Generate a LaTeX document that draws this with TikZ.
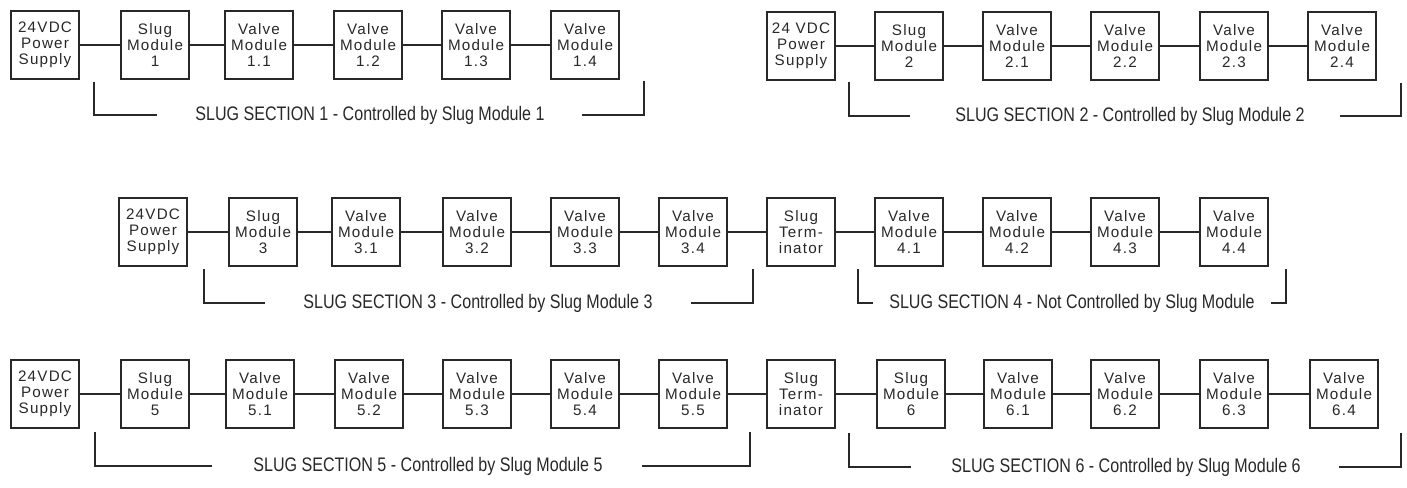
\documentclass[tikz,border=0pt]{standalone}
\usepackage{fontspec}
\usepackage{tikz}
\newfontfamily\modfont[LetterSpace=8]{Liberation Sans}
\newfontfamily\sectfont[FakeStretch=0.82]{Liberation Sans}
\definecolor{inkgray}{RGB}{40,40,40}

\begin{document}
\begin{tikzpicture}[x=0.5pt,y=-0.5pt,
    modbox/.style={draw=inkgray,line width=0.8pt,minimum width=34pt,minimum height=34pt,
        inner sep=0pt,align=center,text=inkgray,font=\modfont\fontsize{7.6}{8}\selectfont},
    wire/.style={draw=inkgray,line width=0.8pt},
    sectlabel/.style={text=inkgray,anchor=base,inner sep=0pt,font=\sectfont\fontsize{9.8}{10}\selectfont}]
    \useasboundingbox (0,0) rectangle (1407,487);

    % Section 1
    \node[modbox] (ps1) at (45,45) {24VDC\\Power\\Supply};
    \node[modbox] (sm1) at (155,45) {Slug\\Module\\1};
    \node[modbox] (vm11) at (259,45) {Valve\\Module\\1.1};
    \node[modbox] (vm12) at (368,45) {Valve\\Module\\1.2};
    \node[modbox] (vm13) at (476,45) {Valve\\Module\\1.3};
    \node[modbox] (vm14) at (585,45) {Valve\\Module\\1.4};
    \draw[wire] (ps1) -- (sm1) -- (vm11) -- (vm12) -- (vm13) -- (vm14);
    \node[sectlabel] (sec1) at (370,120) {SLUG SECTION 1 - Controlled by Slug Module 1};
    \draw[wire] (94,82) -- (94,115) -- (157,115);
    \draw[wire] (582,115) -- (644,115) -- (644,81);

    % Section 2
    \node[modbox] (ps2) at (801,46) {24 VDC\\Power\\Supply};
    \node[modbox] (sm2) at (909,46) {Slug\\Module\\2};
    \node[modbox] (vm21) at (1017,46) {Valve\\Module\\2.1};
    \node[modbox] (vm22) at (1125,46) {Valve\\Module\\2.2};
    \node[modbox] (vm23) at (1234,46) {Valve\\Module\\2.3};
    \node[modbox] (vm24) at (1342,46) {Valve\\Module\\2.4};
    \draw[wire] (ps2) -- (sm2) -- (vm21) -- (vm22) -- (vm23) -- (vm24);
    \node[sectlabel] (sec2) at (1130,121) {SLUG SECTION 2 - Controlled by Slug Module 2};
    \draw[wire] (849,82) -- (849,116) -- (910,116);
    \draw[wire] (1340,116) -- (1401,116) -- (1401,83);

    % Sections 3 and 4
    \node[modbox] (ps3) at (153,232) {24VDC\\Power\\Supply};
    \node[modbox] (sm3) at (263,232) {Slug\\Module\\3};
    \node[modbox] (vm31) at (366,232) {Valve\\Module\\3.1};
    \node[modbox] (vm32) at (477,232) {Valve\\Module\\3.2};
    \node[modbox] (vm33) at (585,232) {Valve\\Module\\3.3};
    \node[modbox] (vm34) at (693,232) {Valve\\Module\\3.4};
    \node[modbox] (st4) at (801,232) {Slug\\Term-\\inator};
    \node[modbox] (vm41) at (909,232) {Valve\\Module\\4.1};
    \node[modbox] (vm42) at (1017,232) {Valve\\Module\\4.2};
    \node[modbox] (vm43) at (1125,232) {Valve\\Module\\4.3};
    \node[modbox] (vm44) at (1234,232) {Valve\\Module\\4.4};
    \draw[wire] (ps3) -- (sm3) -- (vm31) -- (vm32) -- (vm33) -- (vm34) -- (st4)
        -- (vm41) -- (vm42) -- (vm43) -- (vm44);
    \node[sectlabel] (sec3) at (478,308) {SLUG SECTION 3 - Controlled by Slug Module 3};
    \draw[wire] (204,269) -- (204,303) -- (265,303);
    \draw[wire] (691,303) -- (753,303) -- (753,269);
    \node[sectlabel] (sec4) at (1072,308) {SLUG SECTION 4 - Not Controlled by Slug Module};
    \draw[wire] (858,269) -- (858,303) -- (873,303);
    \draw[wire] (1271,303) -- (1286,303) -- (1286,269);

    % Sections 5 and 6
    \node[modbox] (ps5) at (45,394) {24VDC\\Power\\Supply};
    \node[modbox] (sm5) at (155,394) {Slug\\Module\\5};
    \node[modbox] (vm51) at (260,394) {Valve\\Module\\5.1};
    \node[modbox] (vm52) at (369,394) {Valve\\Module\\5.2};
    \node[modbox] (vm53) at (477,394) {Valve\\Module\\5.3};
    \node[modbox] (vm54) at (585,394) {Valve\\Module\\5.4};
    \node[modbox] (vm55) at (693,394) {Valve\\Module\\5.5};
    \node[modbox] (st6) at (801,394) {Slug\\Term-\\inator};
    \node[modbox] (sm6) at (911,394) {Slug\\Module\\6};
    \node[modbox] (vm61) at (1018,394) {Valve\\Module\\6.1};
    \node[modbox] (vm62) at (1125,394) {Valve\\Module\\6.2};
    \node[modbox] (vm63) at (1234,394) {Valve\\Module\\6.3};
    \node[modbox] (vm64) at (1344,394) {Valve\\Module\\6.4};
    \draw[wire] (ps5) -- (sm5) -- (vm51) -- (vm52) -- (vm53) -- (vm54) -- (vm55) -- (st6)
        -- (sm6) -- (vm61) -- (vm62) -- (vm63) -- (vm64);
    \node[sectlabel] (sec5) at (428,471) {SLUG SECTION 5 - Controlled by Slug Module 5};
    \draw[wire] (95,432) -- (95,466) -- (212,466);
    \draw[wire] (642,466) -- (750,466) -- (750,432);
    \node[sectlabel] (sec6) at (1126,472) {SLUG SECTION 6 - Controlled by Slug Module 6};
    \draw[wire] (849,433) -- (849,467) -- (911,467);
    \draw[wire] (1339,467) -- (1401,467) -- (1401,433);
\end{tikzpicture}
\end{document}
